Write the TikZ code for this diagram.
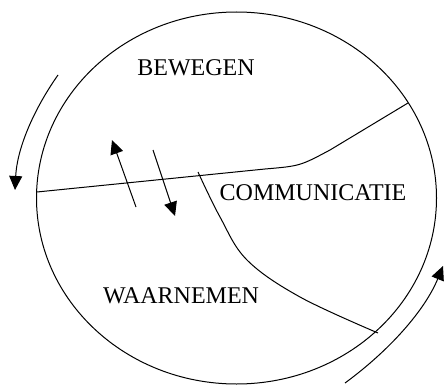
\documentclass[tikz,border=0pt]{standalone}
\usepackage{fontspec}
\setmainfont{Liberation Serif}
\usetikzlibrary{arrows.meta}

\begin{document}
\begin{tikzpicture}[x=0.5pt, y=-0.5pt, line width=0.5pt,
		>={Triangle[length=7pt,width=6.5pt]},
		label/.style={font=\fontsize{12}{14}\selectfont, inner sep=0pt}]
		\useasboundingbox (0,0) rectangle (444,385);

		% the circle
		\draw (236.5,198) ellipse [x radius=200, y radius=186];

		% borders between the fields
		\coordinate (l) at (37,192);
		\coordinate (r) at (408,103);
		\coordinate (k) at (198,172);
		\coordinate (o) at (378,333);
		\draw (l) -- (265,169) .. controls (300,166) .. (330,150) -- (r);
		\draw plot[smooth, tension=0.6] coordinates {(k) (220,217) (247,260) (300,297) (o)};

		\node[label] (bew) at (196,68) {BEWEGEN};
		\node[label] (com) at (313,193) {COMMUNICATIE};
		\node[label] (waa) at (181,296) {WAARNEMEN};

		% arrows across the border
		\coordinate (a1) at (136,207);
		\coordinate (a2) at (112,140);
		\coordinate (b1) at (153,150);
		\coordinate (b2) at (175,216);
		\draw[->] (a1) -- (a2);
		\draw[->] (b1) -- (b2);

		% arrows round the circle
		\coordinate (p1) at (58,75);
		\coordinate (p2) at (15,190);
		\coordinate (q1) at (345,383);
		\coordinate (q2) at (443,266);
		\draw[->] (p1) .. controls (32,112) and (17,150) .. (p2);
		\draw[->] (q1) .. controls (390,350) and (425,310) .. (q2);
	\end{tikzpicture}
\end{document}
